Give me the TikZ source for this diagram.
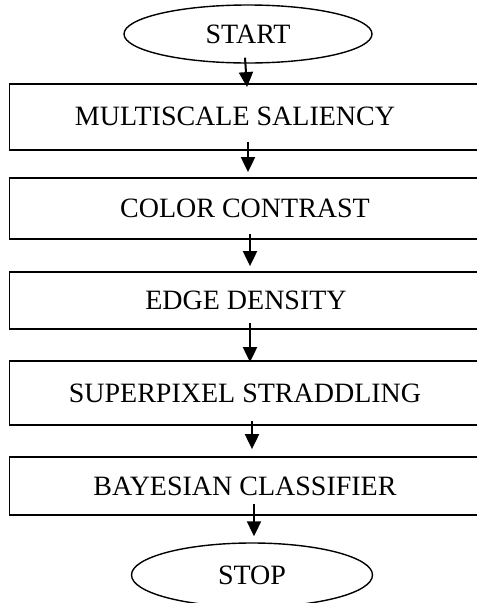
\documentclass[tikz,border=0pt]{standalone}
\usepackage{fontspec}
\setmainfont{Liberation Serif}
\usetikzlibrary{shapes.geometric,arrows.meta}
\begin{document}
\begin{tikzpicture}[x=1pt,y=-1pt,
  stepbox/.style={draw,line width=1.8pt,rectangle,minimum width=481pt,minimum height=#1,inner sep=0pt},
  termnode/.style={draw,line width=1.4pt,ellipse,inner sep=0pt,font=\fontsize{28}{33}\selectfont},
  lbl/.style={inner sep=0pt,font=\fontsize{28}{33}\selectfont},
  arr/.style={line width=2pt,-{Triangle[length=15pt,width=14pt]}}]
\useasboundingbox (0,0) rectangle (477,603);
\clip (0,0) rectangle (477,603);
\node[termnode,minimum width=248pt,minimum height=58pt] (s) at (248,34) {START};
\node[stepbox=66pt] (b1) at (250,117) {};
\node[stepbox=61pt] (b2) at (250,208.5) {};
\node[stepbox=57pt] (b3) at (250,300.5) {};
\node[stepbox=64pt] (b4) at (250,393) {};
\node[stepbox=58pt] (b5) at (250,486) {};
\node[termnode,minimum width=241pt,minimum height=64pt] (e) at (252,575) {STOP};
\node[lbl] (t1) at (235,116) {MULTISCALE SALIENCY};
\node[lbl] (t2) at (245,208) {COLOR CONTRAST};
\node[lbl] (t3) at (246,300) {EDGE DENSITY};
\node[lbl] (t4) at (245,393) {SUPERPIXEL STRADDLING};
\node[lbl] (t5) at (245,486) {BAYESIAN CLASSIFIER};
\draw[arr] ([xshift=-3pt,yshift=6pt]s.south) -- ([xshift=-3pt,yshift=-4pt]b1.north);
\draw[arr] ([xshift=-2pt,yshift=9pt]b1.south) -- ([xshift=-2pt,yshift=5pt]b2.north);
\draw[arr] ([xshift=0pt,yshift=6pt]b2.south) -- ([xshift=0pt,yshift=5pt]b3.north);
\draw[arr] ([xshift=0pt,yshift=7pt]b3.south) -- ([xshift=0pt,yshift=-2pt]b4.north);
\draw[arr] ([xshift=2pt,yshift=5pt]b4.south) -- ([xshift=2pt,yshift=7pt]b5.north);
\draw[arr] ([xshift=4pt,yshift=12pt]b5.south) -- ([xshift=2pt,yshift=6pt]e.north);
\end{tikzpicture}
\end{document}
